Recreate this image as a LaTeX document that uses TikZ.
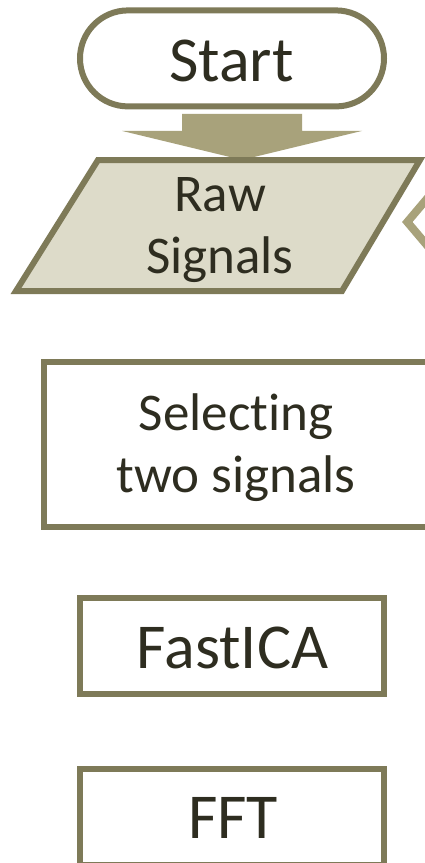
\documentclass[tikz,border=0pt]{standalone}
\usepackage{fontspec}
\setmainfont[Ligatures=NoCommon]{Carlito}
\usetikzlibrary{calc}
\definecolor{edgec}{HTML}{7E7A58}
\definecolor{flowc}{HTML}{A8A27B}
\definecolor{inputc}{HTML}{DDDBC9}
\definecolor{inkc}{HTML}{2E2D20}
\tikzset{
  stepbox/.style={draw=edgec, line width=6pt, fill=white, rectangle,
    minimum width=304pt, minimum height=96pt, inner sep=0pt},
  termbox/.style={stepbox, rounded corners=48pt},
  biglbl/.style={text=inkc, inner sep=0pt, font=\fontsize{64}{70}\selectfont},
  midlbl/.style={text=inkc, inner sep=0pt, align=center,
    font=\fontsize{53}{62}\selectfont},
}
\begin{document}
\begin{tikzpicture}[x=1pt, y=-1pt]
\useasboundingbox (0,0) rectangle (424,863);
\fill[white] (0,0) rectangle (424,863);

% terminal
\node[termbox] (start) at (232,58.4) {};
\node[biglbl, anchor=base] (startlbl) at (231.5,81.7) {Start};

% block arrow from Start down to the input shape
\coordinate (ftop) at ($(start.south)+(10,4.5)$);
\fill[flowc] (ftop) ++(-60,0) -- ++(120,0) -- ++(0,17) -- ++(60,0)
  -- ++(-120,29) -- ++(-120,-29) -- ++(60,0) -- cycle;

% input / output parallelogram
\draw[draw=edgec, line width=6pt, fill=inputc, line join=miter]
  (98,160) -- (420,160) -- (342,291) -- (16,291) -- cycle;
% (base of a two-line label is the baseline of its last line)
\node[midlbl, anchor=base] (raw) at (220,273.3) {Raw\\Signals};

% loop-back arrow head entering from the right
\draw[flowc, line width=8pt, line join=miter]
  (431,194) -- (407.3,222) -- (431,250);

% processing steps
\node[stepbox, minimum width=384pt, minimum height=165pt] (select) at (236,444.5) {};
\node[midlbl, anchor=base] (selectlbl) at (236,492) {Selecting\\two signals};

\node[stepbox] (ica) at (231.7,646) {};
\node[biglbl, anchor=base] (icalbl) at (232.5,668) {FastICA};

\node[stepbox] (fft) at (231.7,817) {};
\node[biglbl, anchor=base] (fftlbl) at (233,838) {FFT};
\end{tikzpicture}
\end{document}
